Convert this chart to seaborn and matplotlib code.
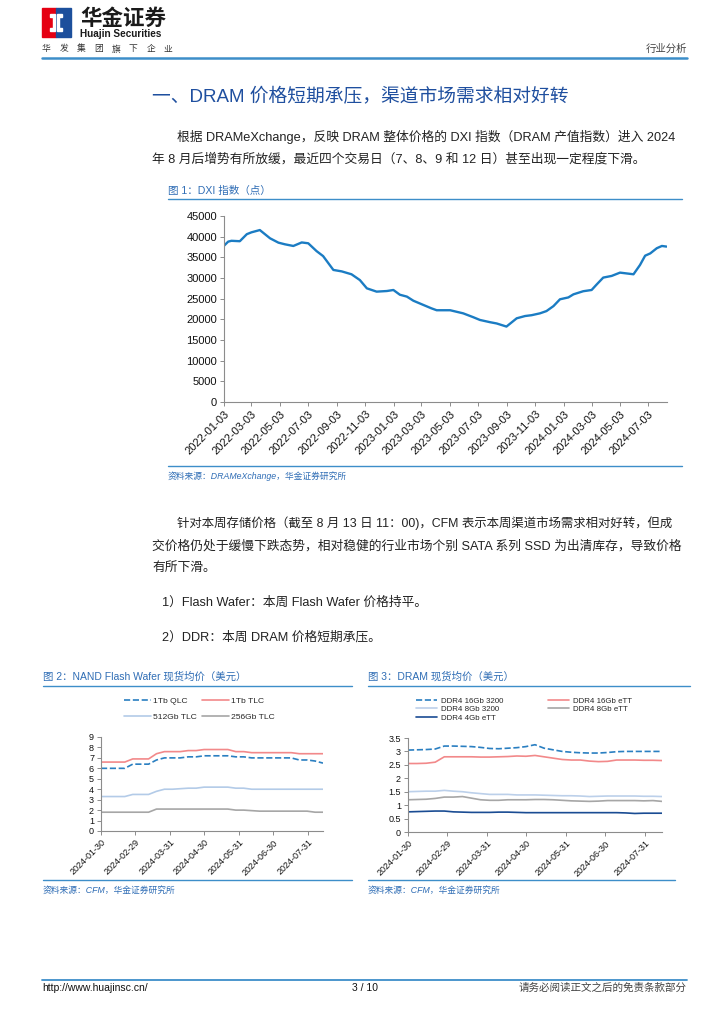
import matplotlib
matplotlib.use("Agg")
import matplotlib.pyplot as plt
from matplotlib.lines import Line2D
from matplotlib.patches import Rectangle, Polygon
import pandas as pd
import seaborn as sns

W, H = 724, 1024
FONT = ["Liberation Sans", "Noto Sans CJK SC"]

# ---- chart 1: DXI index ----
dxi_dates = [
    "2022-01-03", "2022-01-12", "2022-01-19", "2022-02-06", "2022-02-21", "2022-03-03",
    "2022-03-21", "2022-04-12", "2022-04-30", "2022-05-14", "2022-06-01", "2022-06-19",
    "2022-07-03", "2022-07-21", "2022-08-04", "2022-08-26", "2022-09-13", "2022-10-04",
    "2022-10-22", "2022-11-06", "2022-11-27", "2022-12-19", "2023-01-02", "2023-01-16",
    "2023-01-31", "2023-02-14", "2023-03-07", "2023-03-25", "2023-04-05", "2023-05-04",
    "2023-06-01", "2023-06-23", "2023-07-07", "2023-07-29", "2023-08-12", "2023-09-02",
    "2023-09-24", "2023-10-12", "2023-10-26", "2023-11-13", "2023-11-27", "2023-12-12",
    "2023-12-26", "2024-01-13", "2024-01-24", "2024-02-14", "2024-03-03", "2024-03-14",
    "2024-03-28", "2024-04-15", "2024-05-03", "2024-05-14", "2024-06-01", "2024-06-15",
    "2024-06-26", "2024-07-07", "2024-07-21", "2024-08-01", "2024-08-11",
]
dxi_values = [
    37800, 38800, 39000, 38900, 40600, 41050,
    41600, 39600, 38550, 38150, 37750, 38600,
    38400, 36500, 35300, 31950, 31600, 30900,
    29500, 27500, 26700, 26850, 27100, 25950,
    25500, 24500, 23500, 22650, 22200, 22200,
    21450, 20500, 19850, 19300, 19000, 18250,
    20250, 20800, 21000, 21450, 22000, 23200,
    24850, 25300, 26050, 26800, 27100, 28450,
    30100, 30500, 31300, 31150, 30900, 33150,
    35400, 35950, 37200, 37750, 37600,
]
dxi_ticks = [
    "2022-01-03", "2022-03-03", "2022-05-03", "2022-07-03", "2022-09-03", "2022-11-03",
    "2023-01-03", "2023-03-03", "2023-05-03", "2023-07-03", "2023-09-03", "2023-11-03",
    "2024-01-03", "2024-03-03", "2024-05-03", "2024-07-03",
]

# ---- charts 2 & 3: weekly spot prices ----
week_dates = pd.date_range("2024-01-30", periods=29, freq="7D")
spot_ticks = ["2024-01-30", "2024-02-29", "2024-03-31", "2024-04-30",
              "2024-05-31", "2024-06-30", "2024-07-31"]

qlc_1tb = [6.0, 6.0, 6.0, 6.0, 6.4, 6.4, 6.4, 6.8, 7.0, 7.0, 7.0, 7.1, 7.1, 7.2, 7.2,
           7.2, 7.2, 7.1, 7.1, 7.0, 7.0, 7.0, 7.0, 7.0, 7.0, 6.8, 6.8, 6.7, 6.5]
tlc_1tb = [6.6, 6.6, 6.6, 6.6, 6.9, 6.9, 6.9, 7.4, 7.6, 7.6, 7.6, 7.7, 7.7, 7.8, 7.8,
           7.8, 7.8, 7.6, 7.6, 7.5, 7.5, 7.5, 7.5, 7.5, 7.5, 7.4, 7.4, 7.4, 7.4]
tlc_512 = [3.3, 3.3, 3.3, 3.3, 3.5, 3.5, 3.5, 3.8, 4.0, 4.0, 4.05, 4.1, 4.1, 4.2, 4.2,
           4.2, 4.2, 4.1, 4.1, 4.0, 4.0, 4.0, 4.0, 4.0, 4.0, 4.0, 4.0, 4.0, 4.0]
tlc_256 = [1.8, 1.8, 1.8, 1.8, 1.8, 1.8, 1.8, 2.1, 2.1, 2.1, 2.1, 2.1, 2.1, 2.1, 2.1,
           2.1, 2.1, 2.0, 2.0, 1.95, 1.9, 1.9, 1.9, 1.9, 1.9, 1.9, 1.9, 1.8, 1.8]

ddr4_16_3200 = [3.05, 3.06, 3.07, 3.09, 3.2, 3.2, 3.19, 3.18, 3.15, 3.11, 3.1, 3.12, 3.14, 3.18, 3.25,
                3.12, 3.06, 3.0, 2.97, 2.95, 2.94, 2.94, 2.96, 2.99, 3.0, 3.0, 3.0, 3.0, 3.0]
ddr4_16_ett = [2.55, 2.55, 2.56, 2.6, 2.8, 2.8, 2.8, 2.8, 2.79, 2.79, 2.8, 2.81, 2.83, 2.82, 2.85,
               2.8, 2.75, 2.7, 2.68, 2.68, 2.64, 2.62, 2.63, 2.68, 2.68, 2.68, 2.67, 2.67, 2.66]
ddr4_8_3200 = [1.5, 1.51, 1.52, 1.52, 1.55, 1.52, 1.5, 1.46, 1.43, 1.4, 1.4, 1.4, 1.38, 1.38, 1.38,
               1.37, 1.36, 1.35, 1.35, 1.34, 1.32, 1.33, 1.34, 1.34, 1.34, 1.34, 1.33, 1.33, 1.32]
ddr4_8_ett = [1.2, 1.21, 1.22, 1.25, 1.3, 1.3, 1.32, 1.26, 1.2, 1.18, 1.18, 1.2, 1.2, 1.2, 1.21,
              1.21, 1.2, 1.18, 1.16, 1.15, 1.14, 1.15, 1.17, 1.17, 1.17, 1.17, 1.16, 1.17, 1.14]
ddr4_4_ett = [0.75, 0.76, 0.77, 0.78, 0.78, 0.75, 0.74, 0.73, 0.73, 0.73, 0.74, 0.74, 0.73, 0.72, 0.72,
              0.72, 0.72, 0.72, 0.72, 0.72, 0.72, 0.72, 0.72, 0.72, 0.71, 0.69, 0.7, 0.7, 0.7]

BLUE_RULE = "#3d8ec9"
CAP_BLUE = "#2f6db5"
TEXT = "#222222"

sns.set_theme(style="ticks")
plt.rcParams["font.family"] = FONT
plt.rcParams["axes.unicode_minus"] = False

fig = plt.figure(figsize=(W / 100, H / 100), dpi=100)


def fx(x):
    return x / W


def fy(y):
    return 1 - y / H


def rule(y, x0, x1, lw=1.0, color=BLUE_RULE):
    fig.add_artist(Line2D([fx(x0), fx(x1)], [fy(y), fy(y)], color=color, lw=lw))


def txt(x, y, s, size, color=TEXT, ha="left", **kw):
    fig.text(fx(x), fy(y), s, fontsize=size, color=color, ha=ha, va="center",
             family=kw.pop("family", FONT), **kw)


def add_ax(x0, y0, x1, y1):
    return fig.add_axes([fx(x0), fy(y1), fx(x1) - fx(x0), (y1 - y0) / H])


def style_ax(ax, size):
    sns.despine(ax=ax)
    for s in ("left", "bottom"):
        ax.spines[s].set_color("#8c8c8c")
        ax.spines[s].set_linewidth(0.8)
    ax.tick_params(axis="both", length=3, width=0.7, color="#8c8c8c",
                   labelsize=size, labelcolor="#111111", pad=2)
    ax.set_xlabel("")
    ax.set_ylabel("")
    ax.grid(False)


# ---- header ----
fig.add_artist(Rectangle((fx(42), fy(37)), fx(14), 29 / H, color="#e50012"))
fig.add_artist(Rectangle((fx(56), fy(37)), fx(15), 29 / H, color="#1c4f9c"))
fig.add_artist(Polygon([(fx(50), fy(14)), (fx(55), fy(14)), (fx(55), fy(31)), (fx(50), fy(31)),
                        (fx(50), fy(28)), (fx(53), fy(28)), (fx(53), fy(17)), (fx(50), fy(17))],
                       closed=True, color="white"))
fig.add_artist(Polygon([(fx(57), fy(14)), (fx(62), fy(14)), (fx(62), fy(17)), (fx(59), fy(17)),
                        (fx(59), fy(28)), (fx(62), fy(28)), (fx(62), fy(31)), (fx(57), fy(31))],
                       closed=True, color="white"))
txt(80, 19, "华金证券", 15.5, color="#1a1a1a", weight="bold")
txt(80, 34, "Huajin Securities", 7.2, color="#1a1a1a", weight="bold")
for i, ch in enumerate("华发集团旗下企业"):
    txt(42 + i * 17.4, 49, ch, 6.3, color="#333333")
txt(687, 49, "行业分析", 7.5, color="#444444", ha="right")
rule(58, 42, 687, lw=1.8)

# ---- section 1 text ----
txt(152, 97, "一、DRAM 价格短期承压，渠道市场需求相对好转", 13.5, color="#1f4f9f")
txt(177, 137, "根据 DRAMeXchange，反映 DRAM 整体价格的 DXI 指数（DRAM 产值指数）进入 2024", 9.2)
txt(152, 159, "年 8 月后增势有所放缓，最近四个交易日（7、8、9 和 12 日）甚至出现一定程度下滑。", 9.2)

# ---- chart 1 ----
txt(168, 191, "图 1：DXI 指数（点）", 7.6, color=CAP_BLUE)
rule(199, 168, 682)
ax1 = add_ax(224, 216, 667, 402)
dxi = pd.DataFrame({"date": pd.to_datetime(dxi_dates), "value": dxi_values})
sns.lineplot(data=dxi, x="date", y="value", ax=ax1, color="#1b7cc3", lw=1.7)
ax1.set_xlim(pd.Timestamp("2022-01-03"), pd.Timestamp("2024-08-12"))
ax1.set_ylim(0, 45000)
ax1.set_yticks(range(0, 45001, 5000))
ax1.set_xticks(pd.to_datetime(dxi_ticks))
ax1.set_xticklabels(dxi_ticks, rotation=45, ha="right", rotation_mode="anchor")
style_ax(ax1, 8.0)
rule(466, 168, 682)
txt(168, 476, "资料来源：DRAMeXchange，华金证券研究所", 6.3, color=CAP_BLUE, style="italic")

# ---- section 2 text ----
txt(177, 523, "针对本周存储价格（截至 8 月 13 日 11：00)，CFM 表示本周渠道市场需求相对好转，但成", 8.95)
txt(152, 546, "交价格仍处于缓慢下跌态势，相对稳健的行业市场个别 SATA 系列 SSD 为出清库存，导致价格", 9.2)
txt(152, 568, "有所下滑。", 9.2)
txt(162, 603, "1）Flash Wafer：本周 Flash Wafer 价格持平。", 9.2)
txt(162, 637, "2）DDR：本周 DRAM 价格短期承压。", 9.2)

# ---- chart 2 ----
txt(43, 677, "图 2：NAND Flash Wafer 现货均价（美元）", 7.5, color=CAP_BLUE)
rule(686, 43, 352)
ax2 = add_ax(101, 737, 323, 831)
nand = [("1Tb QLC", qlc_1tb, "#2a7fc1", "--"), ("512Gb TLC", tlc_512, "#b3cbe8", "-"),
        ("1Tb TLC", tlc_1tb, "#f2898a", "-"), ("256Gb TLC", tlc_256, "#a6a6a6", "-")]
for name, vals, col, ls in nand:
    sns.lineplot(x=week_dates, y=vals, ax=ax2, color=col, linestyle=ls, lw=1.2, label=name)
ax2.set_xlim(pd.Timestamp("2024-01-30"), pd.Timestamp("2024-08-13"))
ax2.set_ylim(0, 9)
ax2.set_yticks(range(0, 10))
ax2.set_xticks(pd.to_datetime(spot_ticks))
ax2.set_xticklabels(spot_ticks, rotation=45, ha="right", rotation_mode="anchor")
style_ax(ax2, 6.5)
ax2.legend(ncol=2, loc="upper left", bbox_to_anchor=(fx(124), fy(697)),
           bbox_transform=fig.transFigure, frameon=False, fontsize=6.1,
           handlelength=3.2, handletextpad=0.25, columnspacing=0.6,
           labelspacing=0.95, borderpad=0, borderaxespad=0)
rule(880, 43, 352)
txt(43, 890, "资料来源：CFM，华金证券研究所", 6.3, color=CAP_BLUE, style="italic")

# ---- chart 3 ----
txt(368, 677, "图 3：DRAM 现货均价（美元）", 7.5, color=CAP_BLUE)
rule(686, 368, 690)
ax3 = add_ax(408, 738, 662, 832)
dram = [("DDR4 16Gb 3200", ddr4_16_3200, "#2a7fc1", "--"),
        ("DDR4 8Gb 3200", ddr4_8_3200, "#bcd0ea", "-"),
        ("DDR4 4Gb eTT", ddr4_4_ett, "#1a4c93", "-"),
        ("DDR4 16Gb eTT", ddr4_16_ett, "#f2898a", "-"),
        ("DDR4 8Gb eTT", ddr4_8_ett, "#a6a6a6", "-")]
for name, vals, col, ls in dram:
    sns.lineplot(x=week_dates, y=vals, ax=ax3, color=col, linestyle=ls, lw=1.2, label=name)
ax3.set_xlim(pd.Timestamp("2024-01-30"), pd.Timestamp("2024-08-13"))
ax3.set_ylim(0, 3.5)
yt = [0, 0.5, 1, 1.5, 2, 2.5, 3, 3.5]
ax3.set_yticks(yt)
ax3.set_yticklabels(["0", "0.5", "1", "1.5", "2", "2.5", "3", "3.5"])
ax3.set_xticks(pd.to_datetime(spot_ticks))
ax3.set_xticklabels(spot_ticks, rotation=45, ha="right", rotation_mode="anchor")
style_ax(ax3, 6.5)
ax3.legend(ncol=2, loc="upper left", bbox_to_anchor=(fx(416), fy(697)),
           bbox_transform=fig.transFigure, frameon=False, fontsize=5.7,
           handlelength=2.6, handletextpad=0.5, columnspacing=5.7,
           labelspacing=0.12, borderpad=0, borderaxespad=0)
rule(880, 368, 675)
txt(368, 890, "资料来源：CFM，华金证券研究所", 6.3, color=CAP_BLUE, style="italic")

# ---- footer ----
rule(980, 42, 687, lw=1.3)
txt(42, 988, "http://www.huajinsc.cn/", 7.5, color="#111111")
txt(365, 988, "3 / 10", 7.5, color="#111111", ha="center")
txt(687, 988, "请务必阅读正文之后的免责条款部分", 7.6, color="#444444", ha="right")

fig.savefig("out.png", dpi=100)
